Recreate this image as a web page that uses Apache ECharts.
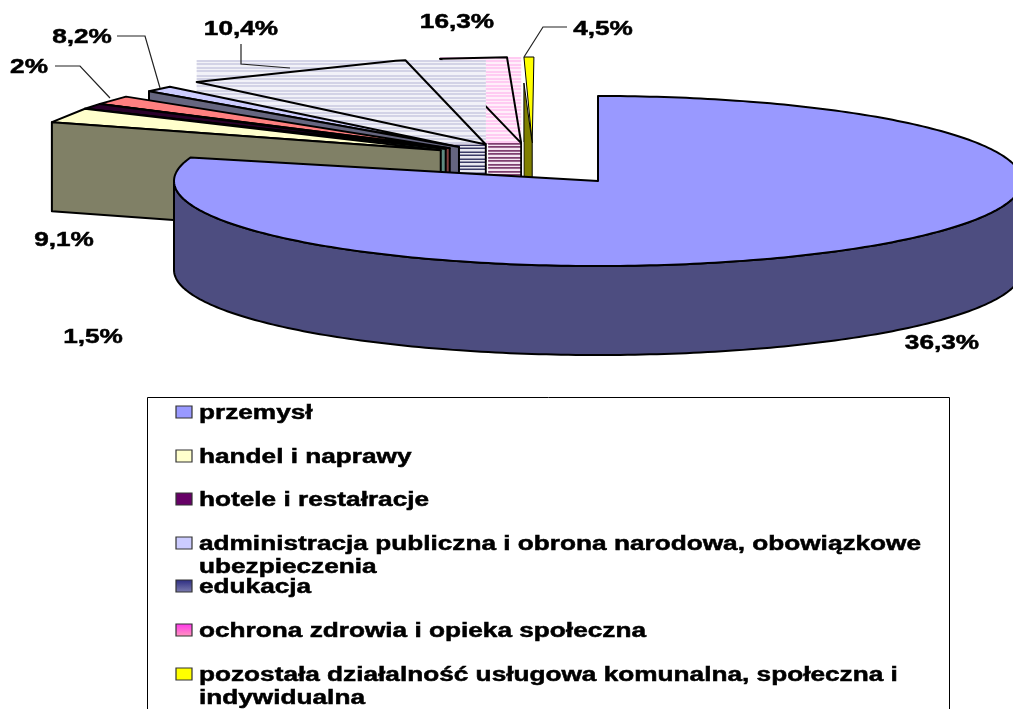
<!DOCTYPE html>
<html><head><meta charset="utf-8">
<style>html,body{margin:0;padding:0;background:#fff;overflow:hidden}#c{width:1013px;height:709px}</style>
<script src="https://cdn.jsdelivr.net/npm/echarts@6/dist/echarts.min.js"></script>
</head><body><div id="c"></div>
<script>
// ---- data (back-to-front drawing order) ----
const sliceNames = ['pozostała działalność','ochrona zdrowia','edukacja','administracja','inne','hotele i restałracje','handel i naprawy'];
const sliceValues = [4.5, 16.3, 10.4, 8.2, 2, 1.5, 9.1];
const sliceLabels = ['4,5%','16,3%','10,4%','8,2%','2%','1,5%','9,1%'];
// rim angles as drawn in the perspective view, degrees from the top, counter-clockwise
const rimFrom = [-0.1, 2.87, 14.2, 44.3, 51.5, 56.4, 59.5];
const rimTo   = [1, 10.3, 40.3, 47.6, 56.4, 59.5, 67.7];
const mainName = 'przemysł', mainValue = 36.3, mainLabel = '36,3%';
const mainSweep = 286.7; // degrees drawn, clockwise from the top
const legendItems = ['przemysł','handel i naprawy','hotele i restałracje',
  ['administracja publiczna i obrona narodowa, obowiązkowe','ubezpieczenia'],'edukacja','ochrona zdrowia i opieka społeczna',
  ['pozostała działalność usługowa komunalna, społeczna i','indywidualna']];

// ---- styling & layout ----
const topColor  = ['#FFFF00','hatchPink','hatchBlue','#CCCCFF','#FF8080','#2A002A','#FFFFCC'];
const wallColor = ['#808000','hatchPinkDark','hatchBlueDark','#666680','#804040','#5F8A80','#808066'];
const wallLift  = [26,0,0,0,0,0,0];
const wallDrop  = [90,0,0,0,0,0,0];
const edgeWidth = [1,2,2,2,2,2,2];
const labelPos  = [[603,28],[457,21],[241,28],[82,36],[29,66],[93,336],[64,239]];
const leaders   = [[[567,27],[543,27],[524,57]],null,[[241,44],[241,64],[290,68]],[[117,36],[145,36],[160,88]],[[55,66],[80,66],[110,98]],null,null];
const mainLabelPos = [942,342];
const rim = {cx:533, cy:162, rx:520, ry:105, step:25};
const hub = {cx:533, cy:156, rx:103, ry:13};
const disc = {cx:598, cy:181, rx:424, ry:85};
const depth = 89;
const TX = 1.31, FONT = 'bold 20px "Liberation Sans", Arial, sans-serif';
const legendBox = [147.5,397.5,802,330];
const legendRows = [413,457,500,544,587,631,675];
const legendFill = ['#9999FF','#FFFFCC','#660066','#CCCCFF',
  {type:'linear',x:0,y:0,x2:0,y2:1,colorStops:[{offset:0,color:'#2A2A80'},{offset:1,color:'#7E7EB0'}]},
  {type:'linear',x:0,y:0,x2:0,y2:1,colorStops:[{offset:0,color:'#FF33EE'},{offset:1,color:'#FF99BB'}]},'#FFFF00'];
const hatchStyle = {
  hatchBlue:{base:'#F2F2F8',line:'#C8C8E0',period:[3,4,3,5]},
  hatchPink:{base:'#FFEFFA',line:'#FFBFEF',period:[3,4,3,4]},
  hatchBlueDark:{base:'#E8E8F0',line:'#3A3A66',period:[3,4,3,4]},
  hatchPinkDark:{base:'#F4E4F0',line:'#7F3F6F',period:[3,4,3,4]}
};
const deg = Math.PI/180;
const ptOn = (e,a) => [e.cx - e.rx*Math.sin(a*deg), e.cy - e.ry*Math.cos(a*deg)];

function poly(points,fill,w){
  return {type:'polygon',shape:{points},style:{fill,stroke:'#000',lineWidth:w||2,lineJoin:'round'}};
}
function hatch(api,name,x0,y0,x1,y1,out){
  const h = hatchStyle[name];
  const a = api.coord([x0,y0]), b = api.coord([x1,y1]);
  out.push({type:'rect',shape:{x:a[0],y:a[1],width:b[0]-a[0],height:b[1]-a[1]},style:{fill:h.base}});
  let y = a[1], i = 0;
  while (y < b[1]) {
    out.push({type:'rect',shape:{x:a[0],y:y,width:b[0]-a[0],height:Math.min(1.6,b[1]-y)},style:{fill:h.line}});
    y += h.period[i++ % h.period.length];
  }
}
function textEl(api,str,pos,align){
  const p = api.coord(pos);
  return {type:'text',x:p[0],y:p[1]+1,scaleX:TX,style:{text:str,font:FONT,fill:'#000',stroke:'#000',lineWidth:0.5,align:align||'center',verticalAlign:'middle'}};
}
function renderSlice(params,api){
  const i = params.dataIndex, from = api.value(0), to = api.value(1);
  const mid = (from+to)/2;
  const hubPt = ptOn(hub,mid);
  const A = api.coord(hubPt);
  const rimPts = [];
  for (let a=to; a>from; a-=rim.step) rimPts.push(ptOn(rim,a));
  rimPts.push(ptOn(rim,from));
  const R = rimPts.map(p=>api.coord(p));
  const out = [], P = R[0];
  const d = api.size([0,depth])[1];
  const wallPts = [[P[0],P[1]+wallLift[i]],[P[0],P[1]+d+wallDrop[i]],[A[0],A[1]+d],A];
  if (hatchStyle[wallColor[i]]) {
    hatch(api,wallColor[i],rimPts[0][0],hubPt[1],hubPt[0],hubPt[1]+depth,out);
    const all = rimPts.concat([hubPt]), xs = all.map(q=>q[0]), ys = all.map(q=>q[1]);
    hatch(api,topColor[i],Math.min(...xs),Math.min(...ys),Math.max(...xs),Math.max(...ys),out);
    out.push(poly(R.concat([A]),'none'));
    out.push({type:'line',shape:{x1:A[0],y1:A[1],x2:A[0],y2:A[1]+d},style:{stroke:'#000',lineWidth:2}});
    out.push({type:'rect',shape:{x:A[0]+1,y:A[1]-1,width:1.3,height:d},style:{fill:'#fff'}});
  } else {
    out.push(poly(R.concat([A]),topColor[i],edgeWidth[i]));
    out.push(poly(wallPts,wallColor[i],edgeWidth[i]));
  }
  if (leaders[i]) out.push({type:'polyline',shape:{points:leaders[i].map(p=>api.coord(p))},style:{stroke:'#222',fill:'none',lineWidth:1.2}});
  out.push(textEl(api,sliceLabels[i],labelPos[i]));
  return {type:'group',children:out};
}
function renderMain(params,api){
  const sweep = api.value(0);
  const C = api.coord([disc.cx,disc.cy]);
  const d = api.size([0,depth])[1];
  const top = [];
  for (let a=0;a<=sweep;a+=1) top.push(api.coord(ptOn(disc,-a)));
  const wallTop = [];
  for (let a=90;a<=270;a+=1) wallTop.push(api.coord(ptOn(disc,-a)));
  const wall = wallTop.concat(wallTop.slice().reverse().map(p=>[p[0],p[1]+d]));
  return {type:'group',children:[
    poly(wall,'#4D4D80'),
    poly(top.concat([C]),'#9999FF'),
    textEl(api,mainLabel,mainLabelPos)
  ]};
}
function renderLegend(params,api){
  const i = params.dataIndex, out = [];
  const y = legendRows[i], lines = [].concat(legendItems[i]);
  const a = api.coord([176,y-7]);
  out.push({type:'rect',shape:{x:a[0],y:a[1],width:16,height:12},style:{fill:legendFill[i],stroke:'#333',lineWidth:1.2}});
  lines.forEach((t,k)=>out.push(textEl(api,t,[199,y-1+k*23],'left')));
  return {type:'group',children:out};
}
const chart = echarts.init(document.getElementById('c'),null,{renderer:'canvas'});
chart.setOption({
  animation:false,
  backgroundColor:'#fff',
  grid:{left:0,right:0,top:0,bottom:0},
  xAxis:{type:'value',min:0,max:1013,show:false},
  yAxis:{type:'value',min:0,max:709,inverse:true,show:false},
  graphic:[{type:'rect',z:0,shape:{x:legendBox[0],y:legendBox[1],width:legendBox[2],height:legendBox[3]},style:{fill:'#fff',stroke:'#000',lineWidth:1}}],
  series:[
    {type:'custom',name:'gałęzie',coordinateSystem:'cartesian2d',renderItem:renderSlice,z:2,clip:false,silent:true,
     encode:{x:0,y:1},data:sliceValues.map((v,i)=>({name:sliceNames[i],value:[rimFrom[i],rimTo[i],v]}))},
    {type:'custom',name:mainName,coordinateSystem:'cartesian2d',renderItem:renderMain,z:3,clip:false,silent:true,
     encode:{x:0,y:1},data:[{name:mainName,value:[mainSweep,0,mainValue]}]},
    {type:'custom',name:'legenda',coordinateSystem:'cartesian2d',renderItem:renderLegend,z:4,clip:false,silent:true,
     encode:{x:0,y:1},data:legendItems.map((t,i)=>({value:[i,i]}))}
  ]
});
</script></body></html>
